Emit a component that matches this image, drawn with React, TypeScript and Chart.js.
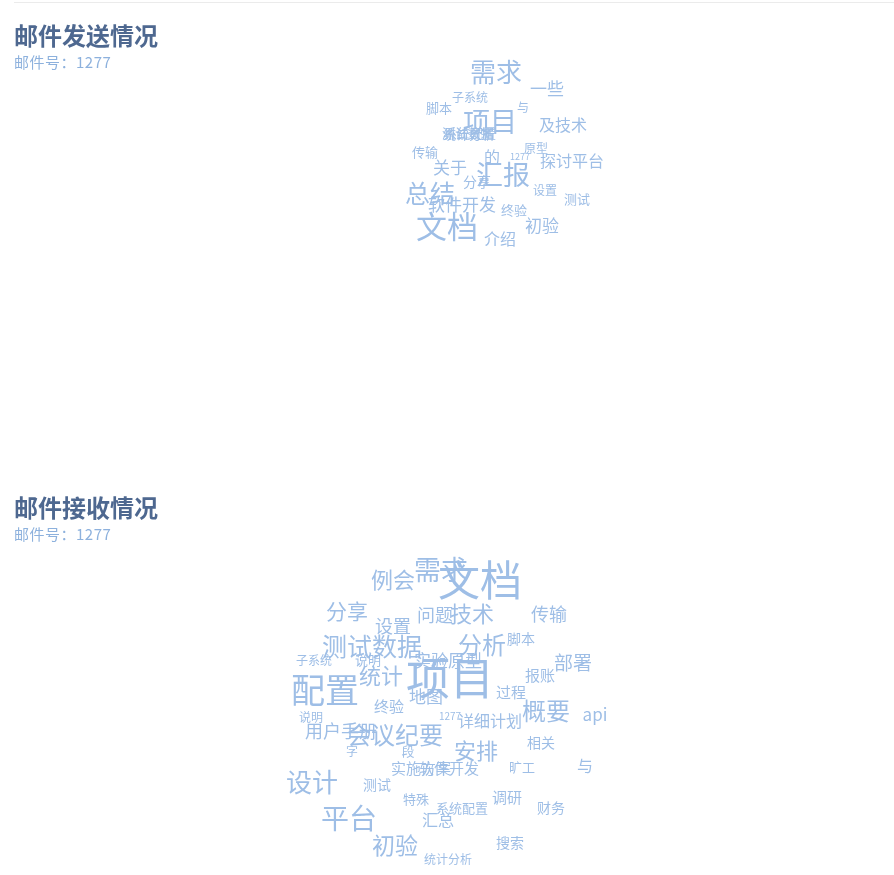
import React, { useEffect, useRef } from "react";
import { Chart, registerables } from "chart.js";

Chart.register(...registerables);

const WORD_COLOR = "#9ebee6";
const FONT = '"Noto Sans CJK SC", "Noto Sans", sans-serif';

// ---- 邮件发送情况 ----
const sendWords = ["需求", "一些", "子系统", "脚本", "与", "项目", "及技术", "系统配置", "测试数据", "统计分析", "传输", "原型", "的", "1277", "探讨平台", "关于", "汇报", "分享", "设置", "总结", "测试", "软件开发", "终验", "文档", "初验", "介绍"];
const sendSizes = [26, 17, 12, 13, 12, 27, 16, 13, 13, 13, 13, 12, 16, 9, 16, 17, 27, 14, 12, 25, 13, 17, 13, 31, 17, 16];
const sendX = [496, 547, 470, 439, 523, 490, 563, 470, 468, 469, 425, 536, 492, 520, 572, 450, 503, 477, 545, 430, 577, 462, 514, 447, 542, 500];
const sendY = [72, 89, 97, 108, 107, 122, 125, 133, 133, 134, 152, 148, 157, 157, 161, 168, 175, 182, 190, 193, 199, 205, 210, 226, 226, 239];

// ---- 邮件接收情况 ----
const recvWords = ["文档", "需求", "例会", "分享", "设置", "问题", "技术", "传输", "测试数据", "分析", "脚本", "子系统", "说明", "统计", "实验原型", "项目", "部署", "报账", "配置", "地图", "过程", "终验", "概要", "api", "说明", "1277", "详细计划", "用户手册", "会议纪要", "相关", "字", "段", "安排", "实施方案", "软件开发", "旷工", "与", "设计", "测试", "特殊", "调研", "系统配置", "财务", "平台", "汇总", "初验", "搜索", "统计分析"];
const recvSizes = [42, 27, 22, 21, 18, 18, 22, 18, 25, 24, 14, 12, 13, 22, 17, 44, 19, 15, 34, 17, 15, 15, 24, 17, 12, 10, 16, 18, 24, 14, 12, 13, 22, 15, 15, 13, 16, 26, 14, 13, 15, 13, 14, 28, 16, 23, 14, 12];
const recvX = [480, 441, 393, 347, 393, 435, 472, 549, 372, 482, 521, 314, 368, 381, 448, 450, 573, 540, 325, 426, 511, 389, 546, 595, 311, 450, 490, 341, 395, 541, 352, 408, 476, 421, 449, 522, 585, 312, 377, 416, 507, 462, 551, 349, 438, 395, 510, 448];
const recvY = [580, 570, 580, 611, 626, 615, 614, 614, 646, 645, 639, 660, 660, 676, 661, 678, 663, 675, 690, 697, 692, 706, 711, 715, 717, 716, 721, 731, 735, 743, 751, 751, 751, 768, 768, 767, 766, 782, 785, 799, 797, 808, 808, 818, 820, 845, 843, 859];

const wordPlugin = {
  id: "wordText",
  afterDatasetsDraw(chart: any) {
    const ctx = chart.ctx;
    chart.data.datasets.forEach((ds: any, di: number) => {
      const meta = chart.getDatasetMeta(di);
      meta.data.forEach((pt: any, i: number) => {
        const d = ds.data[i];
        ctx.save();
        ctx.font = `${d.size}px ${FONT}`;
        ctx.fillStyle = WORD_COLOR;
        ctx.textAlign = "center";
        ctx.textBaseline = "middle";
        ctx.fillText(d.word, pt.x, pt.y);
        ctx.restore();
      });
    });
  },
};

function WordCloud({ words, sizes, xs, ys, top, height }: any) {
  const ref = useRef<HTMLCanvasElement>(null);
  useEffect(() => {
    if (!ref.current) return;
    const data = words.map((w: string, i: number) => ({ x: xs[i], y: ys[i], word: w, size: sizes[i] }));
    const chart = new Chart(ref.current, {
      type: "scatter",
      data: { datasets: [{ data, pointRadius: 0, pointHoverRadius: 0 }] },
      options: {
        animation: false,
        responsive: false,
        events: [],
        layout: { padding: 0 },
        plugins: { legend: { display: false }, tooltip: { enabled: false } },
        scales: {
          x: { type: "linear", min: 0, max: 894, display: false },
          y: { type: "linear", min: top, max: top + height, reverse: true, display: false },
        },
      },
      plugins: [wordPlugin],
    });
    return () => chart.destroy();
  }, []);
  return (
    <canvas
      ref={ref}
      width={894}
      height={height}
      style={{ position: "absolute", left: 0, top, width: 894, height }}
    />
  );
}

function Header({ title, top }: { title: string; top: number }) {
  return (
    <>
      <div
        style={{
          position: "absolute",
          left: 14,
          top,
          fontFamily: FONT,
          fontWeight: 700,
          fontSize: 24,
          lineHeight: "24px",
          color: "#4e6890",
          whiteSpace: "nowrap",
        }}
      >
        {title}
      </div>
      <div
        style={{
          position: "absolute",
          left: 14,
          top: top + 31,
          fontFamily: FONT,
          fontSize: 15,
          lineHeight: "16px",
          letterSpacing: "0.5px",
          color: "#8db1dd",
          whiteSpace: "nowrap",
        }}
      >
        邮件号：1277
      </div>
    </>
  );
}

export default function App() {
  return (
    <div style={{ position: "absolute", left: 0, top: 0, width: 894, height: 875, overflow: "hidden", background: "#fff" }}>
      <div style={{ position: "absolute", left: 14, right: 0, top: 2, height: 1, background: "#ebebeb" }} />
      <WordCloud words={sendWords} sizes={sendSizes} xs={sendX} ys={sendY} top={0} height={440} />
      <WordCloud words={recvWords} sizes={recvSizes} xs={recvX} ys={recvY} top={440} height={435} />
      <Header title="邮件发送情况" top={23} />
      <Header title="邮件接收情况" top={495} />
    </div>
  );
}
